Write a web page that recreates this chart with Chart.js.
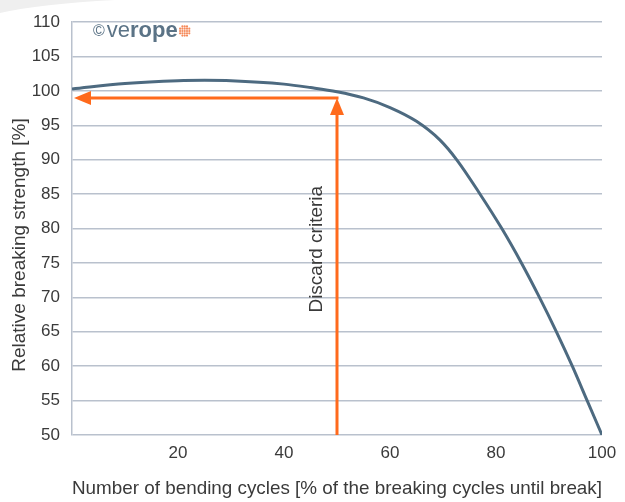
<!DOCTYPE html>
<html>
<head>
<meta charset="utf-8">
<script src="https://cdn.jsdelivr.net/npm/chart.js@4"></script>
<style>
  html, body { margin: 0; padding: 0; background: #fff; }
  #wrap { width: 625px; height: 502px; position: relative; }
</style>
</head>
<body>
<div id="wrap"><canvas id="chart"></canvas></div>
<script>
// Kurvendaten
const cyclesPct = [0, 10, 20, 25, 30, 40, 45, 50, 55, 60, 65, 69.4, 72.6, 77.0, 81.1, 84.8, 88.2, 91.4, 94.4, 97.2, 100];
const strengthPct = [100.3, 101.1, 101.5, 101.55, 101.5, 101.0, 100.5, 99.9, 99.0, 97.6, 95.6, 92.9, 90, 85, 80, 75, 70, 65, 60, 55, 50];
const xTicks = [20, 40, 60, 80, 100];
const yTicks = [50, 55, 60, 65, 70, 75, 80, 85, 90, 95, 100, 105, 110];
const discardCycles = 50;
const discardStrength = 99;
const discardLabelAt = 77;

const FONT = '"Liberation Sans", Arial, sans-serif';
const ORANGE = '#ff6a1c';
const TEXT = '#3a3a3a';

// Pfeile, Beschriftung und Logo
const overlayPlugin = {
    id: 'overlay',
    beforeDraw(chart) {
        const ctx = chart.ctx;
        ctx.save();
        ctx.fillStyle = '#efefef';
        ctx.beginPath();
        ctx.moveTo(0, 0);
        ctx.lineTo(115, 0);
        ctx.quadraticCurveTo(40, 4, 0, 13);
        ctx.closePath();
        ctx.fill();
        ctx.restore();
    },
    afterDatasetsDraw(chart) {
        const ctx = chart.ctx;
        const xs = chart.scales.x, ys = chart.scales.y;
        const px = xs.getPixelForValue(discardCycles);
        const py = ys.getPixelForValue(discardStrength);
        const x0 = xs.getPixelForValue(0);
        const yb = ys.getPixelForValue(50);
        const head = 17, half = 7;

        ctx.save();
        ctx.strokeStyle = ORANGE;
        ctx.fillStyle = ORANGE;
        ctx.lineWidth = 3;
        // senkrechter Pfeil
        ctx.beginPath();
        ctx.moveTo(px, yb);
        ctx.lineTo(px, py + head);
        ctx.stroke();
        ctx.beginPath();
        ctx.moveTo(px, py);
        ctx.lineTo(px - half, py + head);
        ctx.lineTo(px + half, py + head);
        ctx.closePath();
        ctx.fill();
        // waagerechter Pfeil
        ctx.beginPath();
        ctx.moveTo(px + 1.5, py);
        ctx.lineTo(x0 + head, py);
        ctx.stroke();
        ctx.beginPath();
        ctx.moveTo(x0 + 2, py);
        ctx.lineTo(x0 + 2 + head, py - half);
        ctx.lineTo(x0 + 2 + head, py + half);
        ctx.closePath();
        ctx.fill();
        ctx.restore();

        // Discard criteria
        ctx.save();
        ctx.translate(px - 20, ys.getPixelForValue(discardLabelAt));
        ctx.rotate(-Math.PI / 2);
        ctx.fillStyle = TEXT;
        ctx.font = '19px ' + FONT;
        ctx.textAlign = 'center';
        ctx.textBaseline = 'middle';
        ctx.fillText('Discard criteria', 0, 0);
        ctx.restore();

        // Y-Achsentitel
        ctx.save();
        ctx.translate(20, 245);
        ctx.rotate(-Math.PI / 2);
        ctx.fillStyle = TEXT;
        ctx.font = '19px ' + FONT;
        ctx.textAlign = 'center';
        ctx.textBaseline = 'middle';
        ctx.fillText('Relative breaking strength [%]', 0, 0);
        ctx.restore();

        // Logo
        ctx.save();
        ctx.textBaseline = 'middle';
        ctx.fillStyle = '#5b7386';
        let lx = 93;
        const ly = 31;
        ctx.font = '16px ' + FONT;
        ctx.fillText('©', lx, ly + 1);
        lx += ctx.measureText('©').width + 2;
        ctx.font = '22px ' + FONT;
        ctx.fillText('ve', lx, ly);
        lx += ctx.measureText('ve').width;
        ctx.font = 'bold 22px ' + FONT;
        ctx.fillText('rope', lx, ly);
        lx += ctx.measureText('rope').width + 7;
        ctx.fillStyle = '#f58a5a';
        for (let i = -2; i <= 2; i++) {
            for (let j = -2; j <= 2; j++) {
                if (i * i + j * j > 5) continue;
                ctx.beginPath();
                ctx.arc(lx + i * 2.3, ly + j * 2.3, 1.1, 0, Math.PI * 2);
                ctx.fill();
            }
        }
        ctx.restore();
    }
};

new Chart(document.getElementById('chart'), {
    type: 'line',
    data: {
        datasets: [{
            data: cyclesPct.map((x, i) => ({ x: x, y: strengthPct[i] })),
            borderColor: '#4d6a80',
            borderWidth: 3,
            pointRadius: 0,
            fill: false,
            cubicInterpolationMode: 'monotone'
        }]
    },
    options: {
        responsive: true,
        maintainAspectRatio: false,
        animation: false,
        layout: { padding: { top: 13, right: 23, left: 0, bottom: 0 } },
        plugins: {
            legend: { display: false },
            tooltip: { enabled: false }
        },
        scales: {
            x: {
                type: 'linear',
                min: 0,
                max: 100,
                afterFit: s => { s.height = 67; },
                afterBuildTicks: s => { s.ticks = xTicks.map(v => ({ value: v })); },
                grid: { display: false, drawTicks: false },
                border: { display: false },
                ticks: {
                    color: TEXT,
                    font: { family: FONT, size: 17 },
                    padding: 8,
                    maxRotation: 0
                },
                title: {
                    display: true,
                    text: 'Number of bending cycles [% of the breaking cycles until break]',
                    color: TEXT,
                    font: { family: FONT, size: 19 },
                    padding: { top: 0, bottom: 2 }
                }
            },
            y: {
                min: 50,
                max: 110,
                afterFit: s => { s.width = 72; },
                afterBuildTicks: s => { s.ticks = yTicks.map(v => ({ value: v })); },
                grid: { color: '#b9c1cd', lineWidth: 1.5, drawTicks: false },
                border: { display: true, color: '#b9c1cd', width: 1.5 },
                ticks: {
                    color: TEXT,
                    font: { family: FONT, size: 17 },
                    padding: 12
                }
            }
        }
    },
    plugins: [overlayPlugin]
});
</script>
</body>
</html>
